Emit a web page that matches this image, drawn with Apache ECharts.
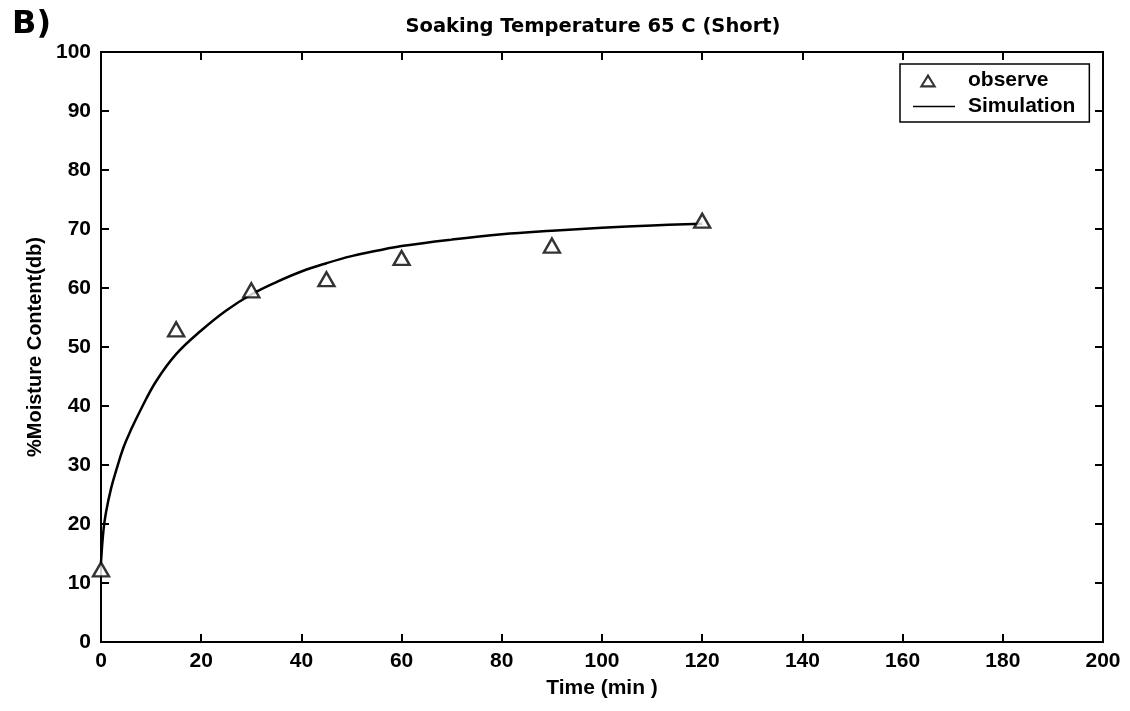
<!DOCTYPE html>
<html>
<head>
<meta charset="utf-8">
<script src="https://cdn.jsdelivr.net/npm/echarts@6/dist/echarts.min.js"></script>
<style>html,body{margin:0;padding:0;background:#fff}#c{width:1130px;height:711px}</style>
</head>
<body>
<div id="c"></div>
<script>
// Observed data
var obsTime = [0, 15, 30, 45, 60, 90, 120];
var obsMoisture = [12.3, 53.0, 59.6, 61.5, 65.1, 67.2, 71.4];
// Simulation curve
var simTime = [0, 0.5, 1, 2, 3, 4.5, 6, 8, 11, 15, 20, 25, 30, 35, 40, 45, 50, 55, 60, 70, 80, 90, 100, 110, 120];
var simMoisture = [13.5, 19, 22, 26, 29, 33, 36, 39.5, 44.2, 48.8, 52.8, 56.2, 58.9, 61, 62.8, 64.2, 65.4, 66.3, 67.1, 68.2, 69.1, 69.7, 70.2, 70.6, 70.9];
var xTicks = [0, 20, 40, 60, 80, 100, 120, 140, 160, 180, 200];
var yTicks = [0, 10, 20, 30, 40, 50, 60, 70, 80, 90, 100];

var obsData = obsTime.map(function (t, i) { return [t, obsMoisture[i]]; });
var simData = simTime.map(function (t, i) { return [t, simMoisture[i]]; });

var lblFont = { fontFamily: 'Liberation Sans, Arial, sans-serif', fontWeight: 'bold', fontSize: 21, color: '#000' };

// legend icons (50x14 box); tiny corner specks fix the bounding box
var specks = 'M0,0 L0.01,0 L0,0.01 Z M50,14 L49.99,14 L50,13.99 Z ';
var triIcon = 'path://' + specks + 'M6.5,14 L15,0 L23.5,14 Z M10.2,11.8 L19.8,11.8 L15,4.3 Z';
var lineIcon = 'path://' + specks + 'M0,6.2 L42,6.2 L42,7.8 L0,7.8 Z';

var chart = echarts.init(document.getElementById('c'), null, { renderer: 'canvas' });
chart.setOption({
  backgroundColor: '#fff',
  animation: false,
  title: [{
    text: 'Soaking Temperature 65 C (Short)',
    left: 588, top: 12, textAlign: 'center',
    textStyle: { fontFamily: 'DejaVu Sans, Verdana, sans-serif', fontWeight: 'bold', fontSize: 19.5, color: '#000' }
  }, {
    text: 'B)',
    left: 7, top: 4,
    textStyle: { fontFamily: 'DejaVu Sans, Verdana, sans-serif', fontWeight: 'bold', fontSize: 32, color: '#000' }
  }],
  grid: { left: 101, top: 52, right: 27, bottom: 69, show: true, borderColor: '#000', borderWidth: 2, backgroundColor: 'transparent' },
  legend: {
    left: 900, top: 64, orient: 'vertical',
    borderColor: '#000', borderWidth: 1.5, borderRadius: 0,
    padding: [6, 14, 5, 13], itemGap: 5, itemWidth: 50, itemHeight: 14,
    textStyle: { fontFamily: 'Liberation Sans, Arial, sans-serif', fontWeight: 'bold', fontSize: 21, color: '#000' },
    data: [
      { name: 'observe', icon: triIcon, itemStyle: { color: '#000', borderWidth: 0 } },
      { name: 'Simulation', icon: lineIcon, itemStyle: { color: '#000', borderWidth: 0 } }
    ]
  },
  xAxis: [{
    type: 'value', min: 0, max: 200, interval: 20,
    name: 'Time (min )', nameLocation: 'middle', nameGap: 36,
    nameTextStyle: lblFont,
    axisLine: { show: true, onZero: false, lineStyle: { color: '#000', width: 2 } },
    axisTick: { inside: true, length: 8, lineStyle: { color: '#000', width: 2 } },
    axisLabel: Object.assign({ margin: 9 }, lblFont),
    splitLine: { show: false }
  }, {
    type: 'value', position: 'top', min: 0, max: 200, interval: 20,
    axisLine: { show: true, onZero: false, lineStyle: { color: '#000', width: 2 } },
    axisTick: { inside: true, length: 8, lineStyle: { color: '#000', width: 2 } },
    axisLabel: { show: false }, splitLine: { show: false }
  }],
  yAxis: [{
    type: 'value', min: 0, max: 100, interval: 10,
    name: '%Moisture Content(db)', nameLocation: 'middle', nameGap: 56,
    nameTextStyle: Object.assign({}, lblFont, { fontSize: 20 }),
    axisLine: { show: true, onZero: false, lineStyle: { color: '#000', width: 2 } },
    axisTick: { inside: true, length: 8, lineStyle: { color: '#000', width: 2 } },
    axisLabel: Object.assign({ margin: 10 }, lblFont),
    splitLine: { show: false }
  }, {
    type: 'value', position: 'right', min: 0, max: 100, interval: 10,
    axisLine: { show: true, onZero: false, lineStyle: { color: '#000', width: 2 } },
    axisTick: { inside: true, length: 8, lineStyle: { color: '#000', width: 2 } },
    axisLabel: { show: false }, splitLine: { show: false }
  }],
  series: [{
    name: 'Simulation', type: 'line', data: simData, smooth: 0.4,
    symbol: 'none', showSymbol: false,
    lineStyle: { color: '#000', width: 2.5 }, itemStyle: { color: '#000' }, z: 2
  }, {
    name: 'observe', type: 'scatter', data: obsData,
    symbol: 'triangle', symbolSize: [16, 14],
    itemStyle: { color: '#fff', borderColor: '#000', borderWidth: 2.4 }, z: 3
  }]
});
</script>
</body>
</html>
